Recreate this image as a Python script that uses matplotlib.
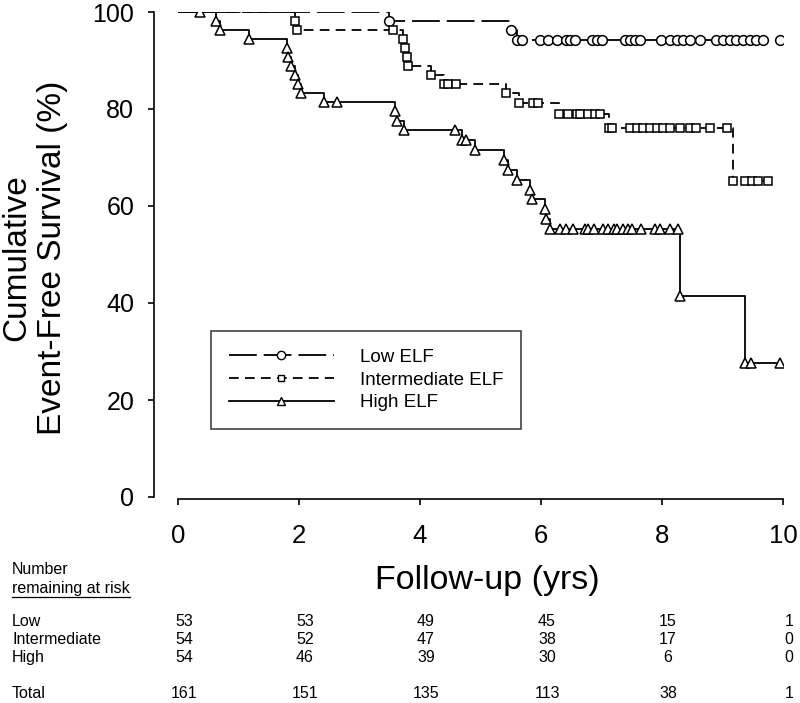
"""Kaplan-Meier event-free survival by ELF tertile, with numbers at risk."""

import matplotlib

matplotlib.use("Agg")
import matplotlib.pyplot as plt
import matplotlib.transforms as mtransforms
import numpy as np
from matplotlib.lines import Line2D

plt.rcParams["font.family"] = ["Liberation Sans", "DejaVu Sans"]
plt.rcParams["lines.scale_dashes"] = False

# ---------------------------------------------------------------------------
# Data (years, % event-free)
# ---------------------------------------------------------------------------

low_event_t = [3.49, 5.51, 5.60]
low_event_s = [98.1, 96.2, 94.3]
low_censor_t = [5.68, 5.98, 6.12, 6.26, 6.41, 6.48, 6.56, 6.84, 6.92, 7.00,
                7.39, 7.47, 7.55, 7.64, 7.99, 8.13, 8.24, 8.35, 8.46, 8.63,
                8.90, 9.01, 9.12, 9.23, 9.34, 9.45, 9.56, 9.67, 9.95]

mid_event_t = [1.93, 1.96, 3.72, 3.76, 3.78, 3.80, 4.18, 4.40, 5.42, 5.63,
               6.30, 7.12, 9.17]
mid_event_s = [98.1, 96.3, 94.5, 92.6, 90.8, 88.8, 87.0, 85.1, 83.3, 81.3,
               79.0, 76.1, 65.2]
mid_censor_t = [3.55, 4.46, 4.60, 5.87, 5.95, 6.45, 6.59, 6.64, 6.78, 6.89,
                6.98, 7.17, 7.47, 7.58, 7.69, 7.80, 7.91, 8.02, 8.13, 8.30,
                8.46, 8.57, 8.79, 9.07, 9.37, 9.48, 9.59, 9.76]

high_event_t = [0.63, 0.69, 1.17, 1.80, 1.82, 1.86, 1.93, 1.99, 2.03, 2.41,
                3.59, 3.62, 3.74, 4.69, 4.91, 5.39, 5.46, 5.60, 5.82, 5.85,
                6.06, 6.08, 6.15, 8.29, 9.37]
high_event_s = [98.1, 96.3, 94.4, 92.6, 90.7, 88.9, 87.0, 85.2, 83.3, 81.4,
                79.5, 77.6, 75.6, 73.7, 71.6, 69.5, 67.4, 65.4, 63.4, 61.4,
                59.3, 57.3, 55.3, 41.5, 27.7]
high_censor_t = [0.37, 2.62, 4.58, 4.76, 6.31, 6.42, 6.53, 6.73, 6.78, 6.87,
                 7.03, 7.11, 7.20, 7.25, 7.36, 7.44, 7.50, 7.66, 7.88, 7.97,
                 8.13, 8.27, 9.47, 9.95]

group_labels = ["Low ELF", "Intermediate ELF", "High ELF"]

risk_times = [0, 2, 4, 6, 8, 10]
risk_row_labels = ["Low", "Intermediate", "High"]
risk_low = [53, 53, 49, 45, 15, 1]
risk_mid = [54, 52, 47, 38, 17, 0]
risk_high = [54, 46, 39, 30, 6, 0]
risk_total = [161, 151, 135, 113, 38, 1]

# ---------------------------------------------------------------------------
# Styling per group
# ---------------------------------------------------------------------------

STYLES = [
    {"ls": (0, (20, 5)), "marker": "o", "ms": 7},
    {"ls": (0, (7, 4.5)), "marker": "s", "ms": 5.5},
    {"ls": "-", "marker": "^", "ms": 6.5},
]
LW = 1.3


def step_curve(event_t, event_s, end_t):
    """Return x/y arrays for a post-step survival curve starting at 100%."""
    xs = [0.0] + list(event_t) + [end_t]
    ys = [100.0] + list(event_s) + [event_s[-1]]
    return xs, ys


def surv_at(times, event_t, event_s):
    """Survival value of the step function at each time."""
    levels = np.array([100.0] + list(event_s))
    idx = np.searchsorted(np.array(event_t), np.array(times), side="right")
    return levels[idx]


fig = plt.figure(figsize=(8.0, 7.03), dpi=100)
W, H = 800.0, 703.0
ax = fig.add_axes([178 / W, 206 / H, 605 / W, 485 / H])

groups = [
    (low_event_t, low_event_s, low_censor_t),
    (mid_event_t, mid_event_s, mid_censor_t),
    (high_event_t, high_event_s, high_censor_t),
]

handles = []
for (ev_t, ev_s, cen_t), style, label in zip(groups, STYLES, group_labels):
    end_t = max(max(cen_t), max(ev_t))
    xs, ys = step_curve(ev_t, ev_s, end_t)
    ax.step(xs, ys, where="post", color="black", lw=LW, linestyle=style["ls"])
    mark_t = list(ev_t) + list(cen_t)
    mark_s = list(ev_s) + list(surv_at(cen_t, ev_t, ev_s))
    ax.plot(mark_t, mark_s, linestyle="none", marker=style["marker"],
            ms=style["ms"], mfc="white", mec="black", mew=1.1, zorder=3)
    handles.append(Line2D([], [], color="black", lw=LW, linestyle=style["ls"],
                          marker=style["marker"], ms=style["ms"] - 1,
                          mfc="white", mec="black", mew=1.0, label=label))

ax.set_xlim(0, 10)
ax.set_ylim(0, 100)
ax.set_xticks(risk_times)
ax.set_yticks([0, 20, 40, 60, 80, 100])
ax.spines["top"].set_visible(False)
ax.spines["right"].set_visible(False)
ax.spines["left"].set_position(("outward", 17))
ax.spines["bottom"].set_position(("outward", 1.2))
for side in ("left", "bottom"):
    ax.spines[side].set_linewidth(1.2)
ax.tick_params(axis="y", direction="out", length=4.5, width=1.2, pad=10,
               labelsize=18)
ax.tick_params(axis="x", direction="out", length=4.5, width=1.2, pad=14,
               labelsize=18.5)

leg = ax.legend(handles=handles, loc="upper left",
                bbox_to_anchor=(211 / W, 1 - 331 / H),
                bbox_transform=fig.transFigure, borderaxespad=0,
                fontsize=13.5, handlelength=5.6, handletextpad=1.4,
                labelspacing=0.3, borderpad=0.95, frameon=True,
                fancybox=False, numpoints=1)
leg.get_frame().set_edgecolor("black")
leg.get_frame().set_linewidth(1.1)

# Axis titles
fig.text(35 / W, 1 - 258 / H, "Cumulative\nEvent-Free Survival (%)",
         rotation=90, ha="center", va="center", multialignment="center",
         fontsize=24)
fig.text(487 / W, 1 - 580 / H, "Follow-up (yrs)", ha="center", va="center",
         fontsize=24.5)

# Numbers-at-risk table: x from the data axis, y in figure pixels
col_tf = mtransforms.blended_transform_factory(ax.transData, fig.transFigure)
col_tf = col_tf + mtransforms.ScaledTranslation(6 / 100, 0, fig.dpi_scale_trans)
TABLE_FS = 11.5

fig.text(12 / W, 1 - 570 / H, "Number", ha="left", va="center",
         fontsize=TABLE_FS)
sub = fig.text(12 / W, 1 - 589 / H, "remaining at risk", ha="left",
               va="center", fontsize=TABLE_FS)

rows = [risk_low, risk_mid, risk_high, risk_total]
row_names = risk_row_labels + ["Total"]
row_y = [622, 639.5, 657.5, 694]
for name, values, py in zip(row_names, rows, row_y):
    fig.text(12 / W, 1 - py / H, name, ha="left", va="center",
             fontsize=TABLE_FS)
    for t, v in zip(risk_times, values):
        fig.text(t, 1 - py / H, str(v), transform=col_tf, ha="center",
                 va="center", fontsize=TABLE_FS)

# underline the sub-heading
fig.canvas.draw()
bb = sub.get_window_extent().transformed(fig.transFigure.inverted())
fig.add_artist(Line2D([bb.x0, bb.x1], [1 - 596.5 / H] * 2, color="black",
                      lw=0.9, transform=fig.transFigure))

fig.savefig("out.png", dpi=100)
plt.close(fig)
